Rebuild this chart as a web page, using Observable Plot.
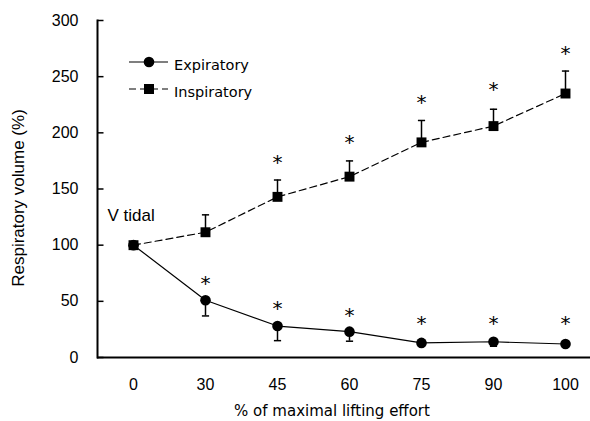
<!DOCTYPE html>
<html><head><meta charset="utf-8">
<script src="https://cdn.jsdelivr.net/npm/d3@7"></script>
<script src="https://cdn.jsdelivr.net/npm/@observablehq/plot@0.6"></script>
<style>
body{margin:0;background:#fff}
#wrap{position:relative;width:590px;height:421px}
#legend{position:absolute;left:0;top:0}
</style>
</head><body><div id="wrap"></div>
<script>
const categories = ["0","30","45","60","75","90","100"];
const expiratory = [100, 51, 28, 23, 13, 14, 12];
const expiratoryErrLow = [null, 37, 15, 14.5, null, 10, null];
const inspiratory = [100, 111.5, 143, 161, 191.5, 206, 235];
const inspiratoryErrHigh = [null, 127, 158, 175, 211, 221, 255];
const expStars = [null, 70, 48, 42, 35, 35, 35];
const insStars = [null, null, 178, 196, 231, 243, 275];
const yTicks = [0, 50, 100, 150, 200, 250, 300];
const seriesNames = ["Expiratory", "Inspiratory"];
const annotation = {label: "V tidal", x: "0", y: 126};

const exp = categories.map((c, i) => ({cat: c, v: expiratory[i], e: expiratoryErrLow[i], s: expStars[i]}));
const ins = categories.map((c, i) => ({cat: c, v: inspiratory[i], e: inspiratoryErrHigh[i], s: insStars[i]}));

const cap = {draw(ctx, size) { const w = Math.sqrt(size / Math.PI); ctx.moveTo(-w, 0); ctx.lineTo(w, 0); }};
const inTick = {draw(ctx, size) { const w = Math.sqrt(size / Math.PI); ctx.moveTo(0, 0); ctx.lineTo(w, 0); }};
const sans = "'Liberation Sans', Arial, sans-serif";
const dj = "'DejaVu Sans', sans-serif";

const plot = Plot.plot({
  width: 590, height: 421,
  marginLeft: 97, marginRight: 0, marginTop: 20, marginBottom: 64,
  style: {fontFamily: sans, fontSize: "16px", color: "#000", background: "#fff", overflow: "visible"},
  x: {type: "point", domain: categories, range: [133, 565], padding: 0},
  y: {domain: [0, 300]},
  marks: [
    Plot.axisY(yTicks, {tickSize: 0, tickPadding: 19, label: null, fontSize: 16}),
    Plot.dot(yTicks, {y: d => d, frameAnchor: "left", symbol: inTick, r: 6, stroke: "#000", strokeWidth: 1.5}),
    Plot.axisX({tickSize: 0, tickPadding: 21, label: null, fontSize: 16}),
    Plot.frame({anchor: "left", strokeWidth: 2, stroke: "#000"}),
    Plot.ruleY([0], {strokeWidth: 2}),
    Plot.text(["Respiratory volume (%)"], {frameAnchor: "left", textAnchor: "middle", lineAnchor: "middle", rotate: -90, dx: -79, dy: 9, fontSize: 17}),
    Plot.text(["% of maximal lifting effort"], {frameAnchor: "bottom", textAnchor: "middle", lineAnchor: "middle", dx: -12, dy: 54, fontSize: 15, fontFamily: dj}),
    // error bars
    Plot.ruleX(exp.filter(d => d.e != null), {x: "cat", y1: "v", y2: "e", strokeWidth: 1.5}),
    Plot.dot(exp.filter(d => d.e != null), {x: "cat", y: "e", symbol: cap, r: 3.6, stroke: "#000", strokeWidth: 1.5}),
    Plot.ruleX(ins.filter(d => d.e != null), {x: "cat", y1: "v", y2: "e", strokeWidth: 1.5}),
    Plot.dot(ins.filter(d => d.e != null), {x: "cat", y: "e", symbol: cap, r: 3.6, stroke: "#000", strokeWidth: 1.5}),
    // lines
    Plot.line(exp, {x: "cat", y: "v", stroke: "#000", strokeWidth: 1.2}),
    Plot.line(ins, {x: "cat", y: "v", stroke: "#000", strokeWidth: 1.2, strokeDasharray: "7,4"}),
    Plot.dot(exp, {x: "cat", y: "v", r: 5.3, fill: "#000", stroke: null}),
    Plot.dot(ins, {x: "cat", y: "v", symbol: "square", r: 5.6, fill: "#000", stroke: null}),
    // significance stars
    Plot.text(exp.filter(d => d.s != null), {x: "cat", y: "s", text: () => "*", fontSize: 20, fontFamily: dj, dy: 5}),
    Plot.text(ins.filter(d => d.s != null), {x: "cat", y: "s", text: () => "*", fontSize: 20, fontFamily: dj, dy: 5}),
    Plot.text([annotation], {x: "x", y: "y", text: "label", textAnchor: "start", dx: -26, fontSize: 17})
  ]
});
const wrap = document.getElementById("wrap");
wrap.appendChild(plot);

// legend overlay
const leg = d3.select(wrap).append("svg").attr("id", "legend").attr("width", 590).attr("height", 120);
const items = [{name: seriesNames[0], y: 62, dash: null, sym: "circle"}, {name: seriesNames[1], y: 89, dash: "7,4", sym: "square"}];
items.forEach(it => {
  leg.append("line").attr("x1", 129).attr("x2", 168).attr("y1", it.y).attr("y2", it.y)
    .attr("stroke", "#000").attr("stroke-width", 1.2).attr("stroke-dasharray", it.dash);
  if (it.sym === "circle") leg.append("circle").attr("cx", 149).attr("cy", it.y).attr("r", 5.3).attr("fill", "#000");
  else leg.append("rect").attr("x", 144).attr("y", it.y - 5).attr("width", 10).attr("height", 10).attr("fill", "#000");
  leg.append("text").attr("x", 174).attr("y", it.y + 3).attr("dy", "0.35em").attr("font-family", dj)
    .attr("font-size", 14.5).text(it.name);
});
</script>
</body></html>
